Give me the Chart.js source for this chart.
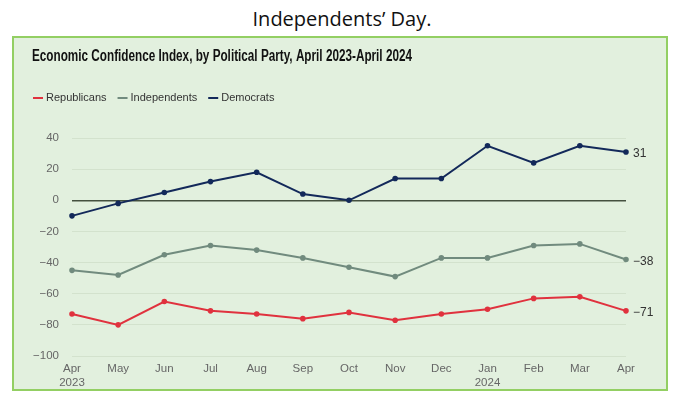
<!DOCTYPE html>
<html>
<head>
<meta charset="utf-8">
<script src="https://cdn.jsdelivr.net/npm/chart.js@4/dist/chart.umd.min.js"></script>
<style>
  html, body { margin: 0; padding: 0; background: #fff; }
  #wrap { position: relative; width: 684px; height: 396px; overflow: hidden; }
  #heading { position: absolute; left: 0; top: 6px; width: 684px; text-align: center;
    font-family: "Open Sans", sans-serif; font-size: 20px; line-height: 26px; color: #111; }
  #box { position: absolute; left: 12px; top: 36px; width: 652px; height: 351px;
    background: #e2f0de; border: 2px solid #93cf63; }
  canvas { position: absolute; left: 0; top: 0; }
</style>
</head>
<body>
<div id="wrap">
  <div id="heading">Independents’ Day.</div>
  <div id="box"></div>
  <canvas id="chart" width="684" height="396"></canvas>
</div>
<script>
var months = [['Apr', '2023'], 'May', 'Jun', 'Jul', 'Aug', 'Sep', 'Oct', 'Nov', 'Dec', ['Jan', '2024'], 'Feb', 'Mar', 'Apr'];
var republicans = [-73, -80, -65, -71, -73, -76, -72, -77, -73, -70, -63, -62, -71];
var independents = [-45, -48, -35, -29, -32, -37, -43, -49, -37, -37, -29, -28, -38];
var democrats = [-10, -2, 5, 12, 18, 4, 0, 14, 14, 35, 24, 35, 31];
var yTicks = [40, 20, 0, -20, -40, -60, -80, -100];

var chartTitle = 'Economic Confidence Index, by Political Party, April 2023-April 2024';

// title + legend + end labels drawn in the canvas
var headerPlugin = {
    id: 'header',
    afterDraw: function(chart) {
        var ctx = chart.ctx;
        ctx.save();
        ctx.fillStyle = '#111';
        ctx.font = 'bold 16px "Liberation Sans", Arial, sans-serif';
        ctx.textBaseline = 'alphabetic';
        ctx.textAlign = 'left';
        ctx.fillText(chartTitle, 32, 61, 380);

        ctx.font = '11px "Liberation Sans", Arial, sans-serif';
        ctx.textBaseline = 'middle';
        var x = 33;
        chart.data.datasets.forEach(function(ds) {
            ctx.strokeStyle = ds.borderColor;
            ctx.lineWidth = 2;
            ctx.beginPath();
            ctx.moveTo(x, 98);
            ctx.lineTo(x + 10, 98);
            ctx.stroke();
            ctx.fillStyle = '#333';
            var w = ctx.measureText(ds.label).width;
            ctx.fillText(ds.label, x + 13, 98);
            x += 13 + w + 11;
        });

        // end labels
        ctx.fillStyle = '#333';
        ctx.font = '12px "Liberation Sans", Arial, sans-serif';
        chart.data.datasets.forEach(function(ds, i) {
            var meta = chart.getDatasetMeta(i);
            var pt = meta.data[meta.data.length - 1];
            var v = ds.data[ds.data.length - 1];
            ctx.fillText(String(v).replace('-', '\u2212'), pt.x + 7, pt.y + 2);
        });
        ctx.restore();
    }
};

new Chart(document.getElementById('chart').getContext('2d'), {
    type: 'line',
    data: {
        labels: months,
        datasets: [{
            label: 'Republicans',
            data: republicans,
            borderColor: '#e0323e',
            backgroundColor: '#e0323e',
            borderWidth: 2,
            pointRadius: 1.8,
            tension: 0
        }, {
            label: 'Independents',
            data: independents,
            borderColor: '#718b7e',
            backgroundColor: '#718b7e',
            borderWidth: 2,
            pointRadius: 1.8,
            tension: 0
        }, {
            label: 'Democrats',
            data: democrats,
            borderColor: '#13295a',
            backgroundColor: '#13295a',
            borderWidth: 2,
            pointRadius: 1.8,
            tension: 0
        }]
    },
    options: {
        responsive: false,
        animation: false,
        layout: { padding: { left: 20, right: 58, top: 138, bottom: 0 } },
        plugins: {
            legend: { display: false },
            title: { display: false },
            tooltip: { enabled: false }
        },
        scales: {
            x: {
                offset: false,
                grid: { display: false, drawTicks: false },
                border: { display: false },
                ticks: {
                    color: '#666',
                    font: { size: 11.5, family: '"Liberation Sans", Arial, sans-serif' },
                    padding: 6,
                    maxRotation: 0,
                    autoSkip: false
                },
                afterFit: function(scale) { scale.height = 40; }
            },
            y: {
                min: -100,
                max: 40,
                afterBuildTicks: function(scale) {
                    scale.ticks = yTicks.map(function(v) { return { value: v }; });
                },
                grid: {
                    drawTicks: false,
                    color: function(c) { return c.tick && c.tick.value === 0 ? '#44503f' : '#d3e2cd'; },
                    lineWidth: function(c) { return c.tick && c.tick.value === 0 ? 1.5 : 1; }
                },
                border: { display: false },
                ticks: {
                    color: '#666',
                    font: { size: 11.5, family: '"Liberation Sans", Arial, sans-serif' },
                    padding: 13,
                    callback: function(v) { return String(v).replace('-', '\u2212'); }
                },
                afterFit: function(scale) { scale.width = 52; }
            }
        }
    },
    plugins: [headerPlugin]
});
</script>
</body>
</html>
